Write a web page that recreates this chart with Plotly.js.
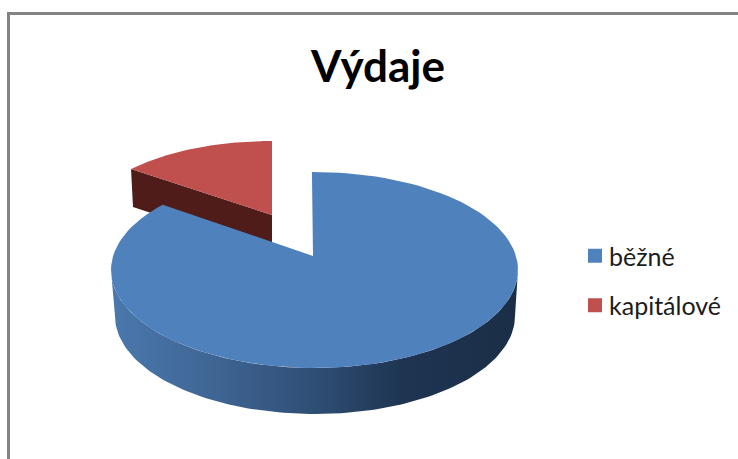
<!DOCTYPE html>
<html><head><meta charset="utf-8">
<script src="https://cdn.plot.ly/plotly-3.0.1.min.js"></script>
<style>html,body{margin:0;padding:0;background:#fff}#c{width:738px;height:459px}</style>
</head><body><div id="c"></div>
<script>
const categories = ["běžné", "kapitálové"];
const shares = [86.6, 13.4];
const colors = ["#4f81bd", "#c0504d"];
const chartTitle = "Výdaje";

const redFrac = shares[1] / (shares[0] + shares[1]);
const arc = (e, a, b, n = 120) => {
  const xs = [], ys = [];
  for (let i = 0; i <= n; i++) {
    const t = (a + (b - a) * i / n) * 2 * Math.PI;
    xs.push(e.cx + e.rx * Math.sin(t));
    ys.push(e.cy - e.ry * Math.cos(t));
  }
  return [xs, ys];
};
const topE = {cx: 314.5, cy: 270, rx: 203.5, ry: 98};
const botE = {cx: 315, cy: 316, rx: 200, ry: 98};
const redE = {cx: 272, cy: 225, rx: 189, ry: 84};
const apex = [313, 256], redApex = [272, 215], redDepth = 38;

const [tx, ty] = arc(topE, -0.002, 1 - redFrac);
const [sx1, sy1] = arc(topE, 0.25, 0.75);
const [sx2, sy2] = arc(botE, 0.75, 0.25);
const rl = arc(redE, -redFrac, 0);

const poly = (x, y, color, extra) => Object.assign({
  type: "scatter", mode: "lines", x, y, fill: "toself", fillcolor: color,
  line: {width: 0}, showlegend: false, hoverinfo: "skip"
}, extra || {});

const data = [
  poly([rl[0][0], redApex[0], redApex[0], rl[0][0] + 2], [rl[1][0], redApex[1], redApex[1] + redDepth, rl[1][0] + redDepth], "#4f1c1a"),
  poly([...rl[0], redApex[0]], [...rl[1], redApex[1]], colors[1]),
  poly([...sx1, ...sx2], [...sy1, ...sy2], "#3a5f8c", {
    fillgradient: {type: "horizontal", start: 112, stop: 518,
      colorscale: [[0, "#4a78ad"], [0.25, "#3f6594"], [0.5, "#2f4e75"], [0.72, "#1e3451"], [1, "#1b2e47"]]}
  }),
  poly([...tx, apex[0]], [...ty, apex[1]], colors[0]),
  ...categories.map((c, i) => ({
    type: "scatter", mode: "markers", x: [null], y: [null], name: c, legendgroup: c,
    marker: {symbol: "square", size: 14, color: colors[i]}
  }))
];

const edge = (x0, y0, x1, y1) => ({type: "line", xref: "paper", yref: "paper",
  x0: x0 / 738, x1: x1 / 738, y0: 1 - y0 / 459, y1: 1 - y1 / 459,
  line: {color: "#848484", width: 3}});

const layout = {
  width: 738, height: 459, margin: {l: 0, r: 0, t: 0, b: 0},
  paper_bgcolor: "#fff", plot_bgcolor: "#fff",
  font: {family: "Lato, sans-serif", color: "#1c1c1c"},
  title: {text: "<b>" + chartTitle + "</b>", x: 378 / 738, xanchor: "center", y: 1 - 67 / 459, yanchor: "middle",
    font: {family: "Lato, sans-serif", size: 44, color: "#000"}},
  xaxis: {range: [0, 738], visible: false, fixedrange: true},
  yaxis: {range: [459, 0], visible: false, fixedrange: true},
  showlegend: true,
  legend: {x: 575 / 738, y: 1 - 233 / 459, xanchor: "left", yanchor: "top", bgcolor: "rgba(0,0,0,0)",
    font: {size: 25, color: "#1c1c1c"}, tracegroupgap: 14, itemwidth: 30, traceorder: "grouped"},
  shapes: [edge(7, 13.5, 738, 13.5), edge(8.5, 12, 8.5, 459)]
};
Plotly.newPlot("c", data, layout, {displayModeBar: false, staticPlot: true}).then(() => {
  document.querySelectorAll(".legend .legendtext").forEach(t => t.setAttribute("x", 34));
});
</script></body></html>
